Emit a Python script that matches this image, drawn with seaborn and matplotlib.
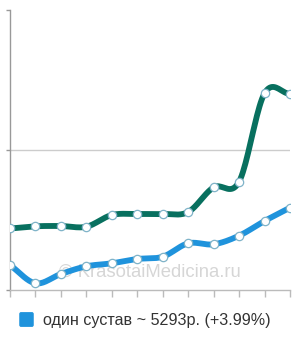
import numpy as np
import pandas as pd
import matplotlib
matplotlib.use("Agg")
import matplotlib.pyplot as plt
from matplotlib.patches import FancyBboxPatch
import seaborn as sns

sns.set_theme(style="white")
plt.rcParams['font.family'] = ['Liberation Sans', 'DejaVu Sans']

# data
points = list(range(12))
series_a = [3954, 4095, 4114, 4069, 4821, 4886, 4886, 5014, 6602, 6962, 12645, 12600]
series_b = [1607, 431, 1029, 1524, 1716, 1993, 2141, 3002, 2938, 3491, 4436, 5293]
legend_label = "один сустав ~ 5293р. (+3.99%)"
watermark = "© KrasotaiMedicina.ru"
y_ticks = [0, 9000, 18000]

color_a = "#08705f"
color_b = "#1f93dc"


def catmull_rom(x, y, n=20):
    x = np.asarray(x, float)
    y = np.asarray(y, float)
    px = np.concatenate([[2 * x[0] - x[1]], x, [2 * x[-1] - x[-2]]])
    py = np.concatenate([[2 * y[0] - y[1]], y, [2 * y[-1] - y[-2]]])
    xs, ys = [], []
    for i in range(1, len(px) - 2):
        t = np.linspace(0, 1, n, endpoint=False)
        for P, out in ((px, xs), (py, ys)):
            p0, p1, p2, p3 = P[i - 1], P[i], P[i + 1], P[i + 2]
            out.extend(0.5 * ((2 * p1) + (-p0 + p2) * t
                              + (2 * p0 - 5 * p1 + 4 * p2 - p3) * t ** 2
                              + (-p0 + 3 * p1 - 3 * p2 + p3) * t ** 3))
    xs.append(x[-1])
    ys.append(y[-1])
    return np.array(xs), np.array(ys)


fig = plt.figure(figsize=(3.0, 3.4), dpi=100)
ax = fig.add_axes([10 / 300, 50 / 340, 280 / 300, 280 / 340])

df = pd.DataFrame({"x": points * 2, "y": series_a + series_b,
                   "s": ["a"] * 12 + ["b"] * 12})

for vals, col in ((series_a, color_a), (series_b, color_b)):
    sx, sy = catmull_rom(points, vals)
    ax.plot(sx, sy, color=col, lw=4.2, solid_capstyle="round", zorder=3)

sns.scatterplot(data=df, x="x", y="y", ax=ax, color="white", s=36,
                edgecolor="#7fb3c8", linewidth=0.9, zorder=4, legend=False)

ax.set_xlim(0, 11)
ax.set_ylim(0, 18000)
ax.set_yticks(y_ticks)
ax.set_yticklabels([])
ax.set_xticks(points)
ax.set_xticklabels([])
ax.set_xlabel("")
ax.set_ylabel("")
ax.axhline(9000, color="#cccccc", lw=1, zorder=1)
for side in ("top", "right"):
    ax.spines[side].set_visible(False)
ax.spines["left"].set_color("#999999")
ax.spines["left"].set_linewidth(1)
ax.spines["bottom"].set_color("#bbbbbb")
ax.spines["bottom"].set_linewidth(1)
ax.tick_params(axis="both", length=5, width=1, colors="#bbbbbb", direction="out",
               left=True, bottom=True)
ax.tick_params(axis="y", length=3, colors="#999999")
for s in ax.spines.values():
    s.set_clip_on(False)

ax.text(5.5, 1150, watermark, ha="center", va="center", fontsize=13.3,
        color="#d6d6d6", zorder=2)

fig.patches.append(FancyBboxPatch((21 / 300, 1 - 325 / 340), 11 / 300, 11 / 340,
                                  boxstyle="round,pad=0.0035",
                                  transform=fig.transFigure, color=color_b,
                                  figure=fig))
fig.text(43 / 300, 1 - 320 / 340, legend_label, ha="left", va="center",
         fontsize=11.6, color="#333333")

fig.savefig("out.png", dpi=100)
